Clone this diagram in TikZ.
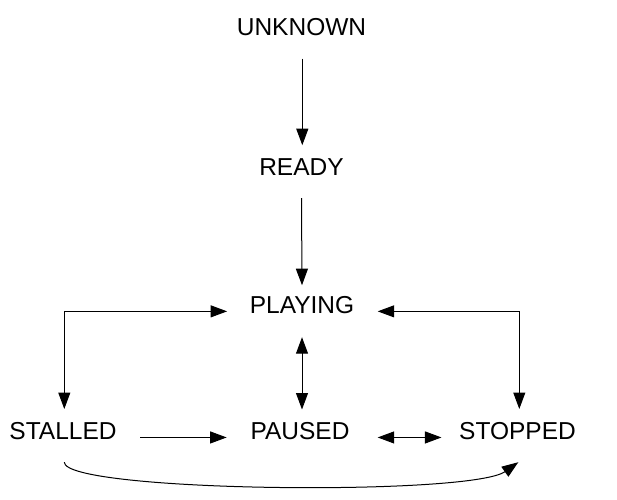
\documentclass[tikz,border=0pt]{standalone}
\usepackage{fontspec}
\setmainfont{Liberation Sans}
\usetikzlibrary{arrows.meta,calc}
\begin{document}
\begin{tikzpicture}[x=1pt,y=-1pt,
  state/.style={inner sep=0pt, anchor=base, text height=17.5pt, text depth=0pt,
    font=\fontsize{24.5}{28}\selectfont},
  tip/.tip={Triangle[length=16.5pt,width=12pt]},
  flow/.style={line width=1pt, -tip},
  twoway/.style={line width=1pt, tip-tip}]
\useasboundingbox (0,0) rectangle (617,499);

% states
\node[state] (unknown) at (301.5,35.5) {UNKNOWN};
\node[state] (ready)   at (301.5,175)  {READY};
\node[state] (playing) at (302,313)    {PLAYING};
\node[state] (stalled) at (63,439.3)   {STALLED};
\node[state] (paused)  at (300,439.3)  {PAUSED};
\node[state] (stopped) at (517.5,439.3) {STOPPED};

% transitions
\draw[flow] ([xshift=0.8pt,yshift=-23pt]unknown.south) -- ([xshift=0.8pt,yshift=12.1pt]ready.north);
\draw[flow] ([yshift=-23pt]ready.south) -- ([yshift=10.1pt]playing.north);
\draw[twoway] ([xshift=-22.5pt,yshift=-7.1pt]playing.west) -| ([xshift=1.3pt,yshift=12.6pt]stalled.north);
\draw[twoway] ([xshift=23.3pt,yshift=-7.1pt]playing.east) -| ([xshift=1.8pt,yshift=12.6pt]stopped.north);
\draw[twoway] ([yshift=-24pt]playing.south) -- ($(playing.south |- paused.north)+(0,-12.1)$);
\draw[flow] ([xshift=23.3pt,yshift=-6.9pt]stalled.east) -- ([xshift=-23.7pt,yshift=-6.9pt]paused.west);
\draw[twoway] ([xshift=28pt,yshift=-6.9pt]paused.east) -- ([xshift=-17.5pt,yshift=-6.9pt]stopped.west);
\draw[flow] ([xshift=1.3pt,yshift=-22.7pt]stalled.south)
  .. controls +(0,30) and +(-48,34) .. ([xshift=0.8pt,yshift=-22.7pt]stopped.south);
\end{tikzpicture}
\end{document}
